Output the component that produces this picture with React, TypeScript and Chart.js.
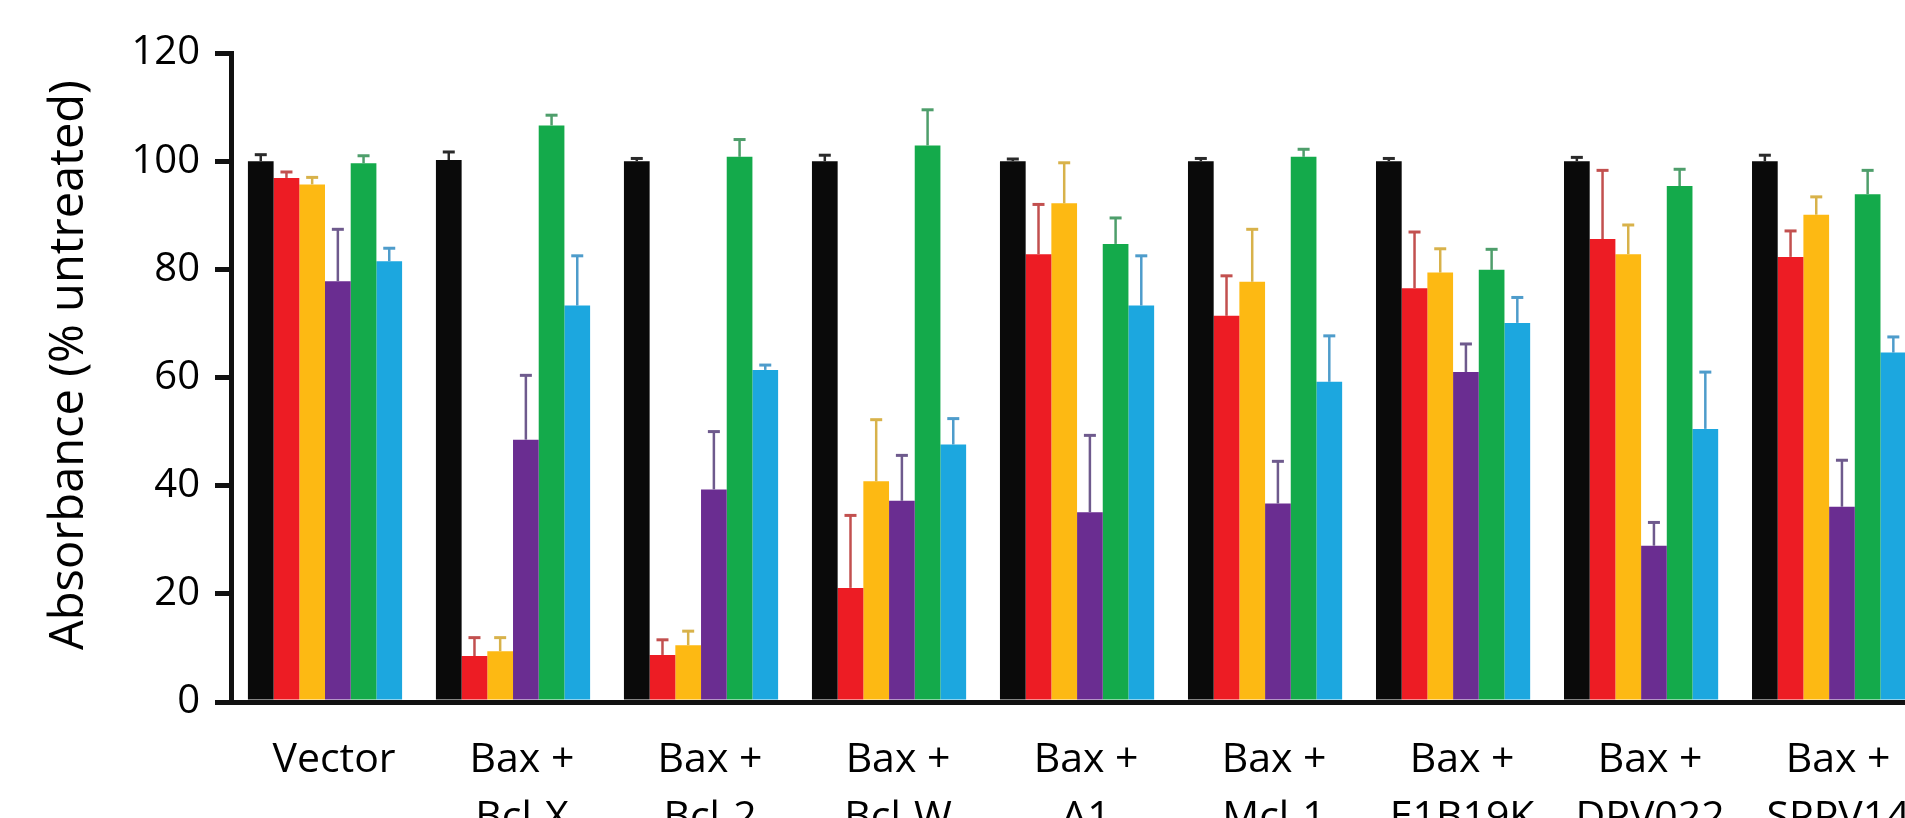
import React, { useEffect, useRef } from "react";
import { Chart, registerables } from "chart.js";

Chart.register(...registerables);

// ---- Data ----
const categories: string[][] = [
  ["Vector"],
  ["Bax +", "Bcl-X"],
  ["Bax +", "Bcl-2"],
  ["Bax +", "Bcl-W"],
  ["Bax +", "A1"],
  ["Bax +", "Mcl-1"],
  ["Bax +", "E1B19K"],
  ["Bax +", "DPV022"],
  ["Bax +", "SPPV14"],
];

const seriesNames = ["Series 1", "Series 2", "Series 3", "Series 4", "Series 5", "Series 6"];

const blackValues = [100, 100.2, 100, 100, 100, 100, 100, 100, 100];
const blackErrors = [1.2, 1.5, 0.5, 1.1, 0.4, 0.5, 0.5, 0.7, 1.1];

const redValues = [96.9, 8.5, 8.7, 21.1, 82.8, 71.4, 76.5, 85.6, 82.3];
const redErrors = [1.1, 3.4, 2.8, 13.4, 9.2, 7.4, 10.4, 12.7, 4.8];

const yellowValues = [95.7, 9.4, 10.5, 40.8, 92.2, 77.7, 79.4, 82.8, 90.1];
const yellowErrors = [1.3, 2.5, 2.6, 11.4, 7.5, 9.7, 4.4, 5.4, 3.3];

const purpleValues = [77.8, 48.5, 39.3, 37.2, 35.1, 36.7, 61.0, 28.9, 36.1];
const purpleErrors = [9.6, 11.9, 10.7, 8.4, 14.2, 7.8, 5.2, 4.3, 8.6];

const greenValues = [99.6, 106.6, 100.8, 102.9, 84.7, 100.8, 79.9, 95.4, 93.9];
const greenErrors = [1.4, 1.9, 3.2, 6.6, 4.8, 1.4, 3.8, 3.1, 4.4];

const blueValues = [81.5, 73.3, 61.4, 47.6, 73.3, 59.2, 70.1, 50.5, 64.6];
const blueErrors = [2.4, 9.2, 0.9, 4.8, 9.2, 8.5, 4.7, 10.5, 2.9];

const yTicks = [0, 20, 40, 60, 80, 100, 120];
const yTitle = "Absorbance (% untreated)";

const barColors = ["#0a0a0a", "#ed1c24", "#fdb913", "#6a2d91", "#14aa4b", "#1ca7df"];
const errColors = ["#2a2a2a", "#c2504f", "#d8b24a", "#6e5a8d", "#4e9e6b", "#4e9ccb"];

const seriesValues = [blackValues, redValues, yellowValues, purpleValues, greenValues, blueValues];
const seriesErrors = [blackErrors, redErrors, yellowErrors, purpleErrors, greenErrors, blueErrors];

const FONT = "'Open Sans', 'DejaVu Sans', sans-serif";

const errorBarPlugin = {
  id: "errorBars",
  afterDatasetsDraw(chart: any) {
    const ctx = chart.ctx;
    const yScale = chart.scales.y;
    chart.data.datasets.forEach((ds: any, i: number) => {
      const meta = chart.getDatasetMeta(i);
      meta.data.forEach((el: any, j: number) => {
        const v = ds.data[j];
        const e = ds.errors[j];
        const yTop = yScale.getPixelForValue(v + e);
        const yBar = el.y;
        ctx.save();
        ctx.strokeStyle = ds.errorColor;
        ctx.lineWidth = 2.5;
        ctx.beginPath();
        ctx.moveTo(el.x, yBar);
        ctx.lineTo(el.x, yTop);
        ctx.stroke();
        ctx.lineWidth = 3;
        ctx.beginPath();
        ctx.moveTo(el.x - 6, yTop);
        ctx.lineTo(el.x + 6, yTop);
        ctx.stroke();
        ctx.restore();
      });
    });
  },
};

const yTitlePlugin = {
  id: "yTitleCustom",
  afterDraw(chart: any) {
    const ctx = chart.ctx;
    ctx.save();
    ctx.translate(70, 365);
    ctx.rotate(-Math.PI / 2);
    ctx.font = `47px ${FONT}`;
    ctx.fillStyle = "#000";
    ctx.textAlign = "center";
    ctx.textBaseline = "middle";
    ctx.fillText(yTitle, 0, 0);
    ctx.restore();
  },
};

export default function App() {
  const canvasRef = useRef<HTMLCanvasElement>(null);

  useEffect(() => {
    const W = 1930;
    const H = 860;
    const chart = new Chart(canvasRef.current as HTMLCanvasElement, {
      type: "bar",
      data: {
        labels: categories,
        datasets: seriesValues.map((vals, i) => ({
          label: seriesNames[i],
          data: vals,
          errors: seriesErrors[i],
          errorColor: errColors[i],
          backgroundColor: barColors[i],
          borderWidth: 0,
          categoryPercentage: 0.82,
          barPercentage: 1.0,
        })) as any,
      },
      options: {
        responsive: false,
        animation: false,
        devicePixelRatio: 1,
        layout: { padding: { left: 0, top: 53, right: W - 1924, bottom: 0 } },
        plugins: {
          legend: { display: false },
          tooltip: { enabled: false },
          title: { display: false },
        },
        scales: {
          x: {
            z: 1,
            afterFit: (s: any) => {
              s.height = H - 702;
            },
            grid: { display: false, drawTicks: false },
            border: { display: true, color: "#111", width: 5 },
            ticks: {
              color: "#000",
              padding: 29,
              labelOffset: 9,
              maxRotation: 0,
              autoSkip: false,
              font: { family: FONT, size: 41, lineHeight: 1.42 },
            },
          },
          y: {
            min: 0,
            max: 120,
            afterFit: (s: any) => {
              s.width = 231;
            },
            afterBuildTicks: (s: any) => {
              s.ticks = yTicks.map((v) => ({ value: v }));
            },
            grid: {
              display: true,
              drawOnChartArea: false,
              drawTicks: true,
              tickLength: 16,
              lineWidth: 5,
              color: "#111",
            },
            border: { display: true, color: "#111", width: 5 },
            ticks: {
              color: "#000",
              padding: 15,
              font: { family: FONT, size: 40 },
            },
          },
        },
      },
      plugins: [errorBarPlugin, yTitlePlugin],
    });
    return () => chart.destroy();
  }, []);

  return (
    <div
      style={{
        position: "fixed",
        left: 0,
        top: 0,
        width: 1905,
        height: 818,
        overflow: "hidden",
        background: "#fff",
      }}
    >
      <canvas
        ref={canvasRef}
        width={1930}
        height={860}
        style={{ display: "block", width: 1930, height: 860 }}
      />
    </div>
  );
}
